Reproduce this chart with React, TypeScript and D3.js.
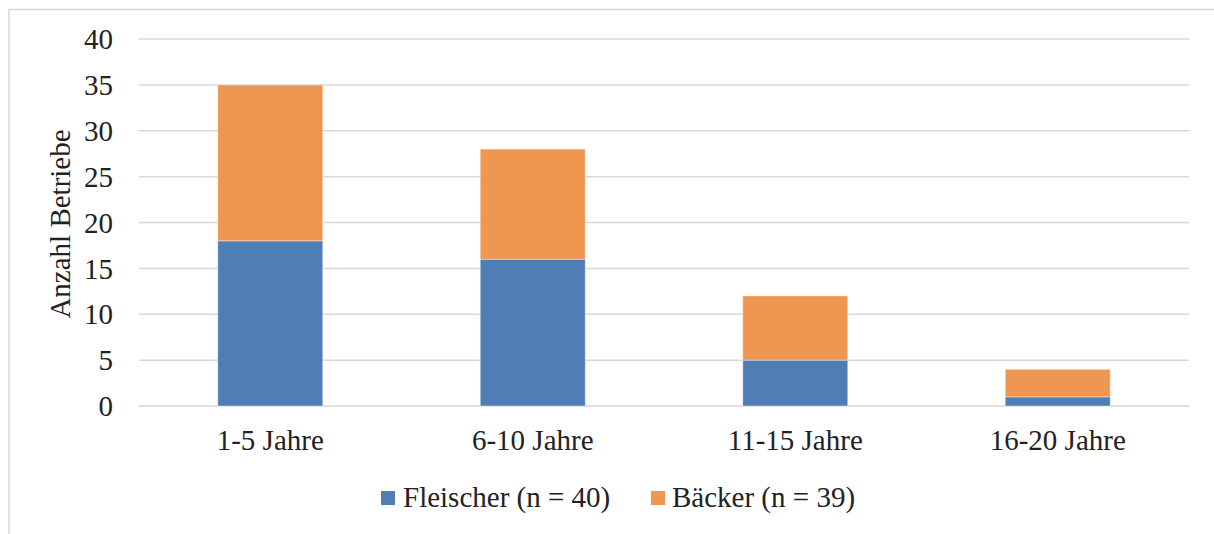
import React from "react";
import * as d3 from "d3";

const categories = ["1-5 Jahre", "6-10 Jahre", "11-15 Jahre", "16-20 Jahre"];
const fleischer = [18, 16, 5, 1];
const baecker = [17, 12, 7, 3];
const seriesNames = ["Fleischer (n = 40)", "Bäcker (n = 39)"];
const yTicks = [0, 5, 10, 15, 20, 25, 30, 35, 40];

const W = 1214;
const H = 534;
const FONT = "Liberation Serif, DejaVu Serif";
const COLORS = ["#4F7EB6", "#EF9752"];

export default function App() {
  const x = d3.scaleBand<string>().domain(categories).range([139, 1189]).paddingInner(0.6).paddingOuter(0.3);
  const y = d3.scaleLinear().domain([0, 40]).range([406, 39]);

  const rows = categories.map((c, i) => ({ cat: c, f: fleischer[i], b: baecker[i] }));
  const stack = d3.stack<any>().keys(["f", "b"])(rows);

  const textStyle = { fontFamily: FONT, fontSize: 29, fill: "#222" };

  return (
    <svg width={W} height={H} style={{ position: "absolute", left: 0, top: 0, background: "#fff" }}>
      <rect x={9} y={9.5} width={1220} height={540} fill="#fff" stroke="#d9d9d9" strokeWidth={1.5} />
      {yTicks.map((t) => (
        <g key={t}>
          <line x1={139} x2={1189} y1={y(t)} y2={y(t)} stroke="#d9d9d9" strokeWidth={1.5} />
          <text x={113} y={y(t)} dy="0.35em" textAnchor="end" style={textStyle}>
            {t}
          </text>
        </g>
      ))}
      {stack.map((s, si) => (
        <g key={si}>
          {s.map((d, i) => (
            <rect
              key={i}
              x={x(categories[i])!}
              width={x.bandwidth()}
              y={y(d[1])}
              height={y(d[0]) - y(d[1])}
              fill={COLORS[si]}
              stroke="#ffffff"
              strokeOpacity={0.4}
              strokeWidth={1}
            />
          ))}
        </g>
      ))}
      {categories.map((c) => (
        <text key={c} x={x(c)! + x.bandwidth() / 2} y={450} textAnchor="middle" style={textStyle}>
          {c}
        </text>
      ))}
      <text transform={`translate(70,224) rotate(-90)`} textAnchor="middle" style={textStyle}>
        Anzahl Betriebe
      </text>
      <g>
        <rect x={381} y={491} width={14} height={14} fill={COLORS[0]} />
        <text x={403} y={507} style={textStyle}>{seriesNames[0]}</text>
        <rect x={651} y={491} width={14} height={14} fill={COLORS[1]} />
        <text x={672} y={507} style={textStyle}>{seriesNames[1]}</text>
      </g>
    </svg>
  );
}
